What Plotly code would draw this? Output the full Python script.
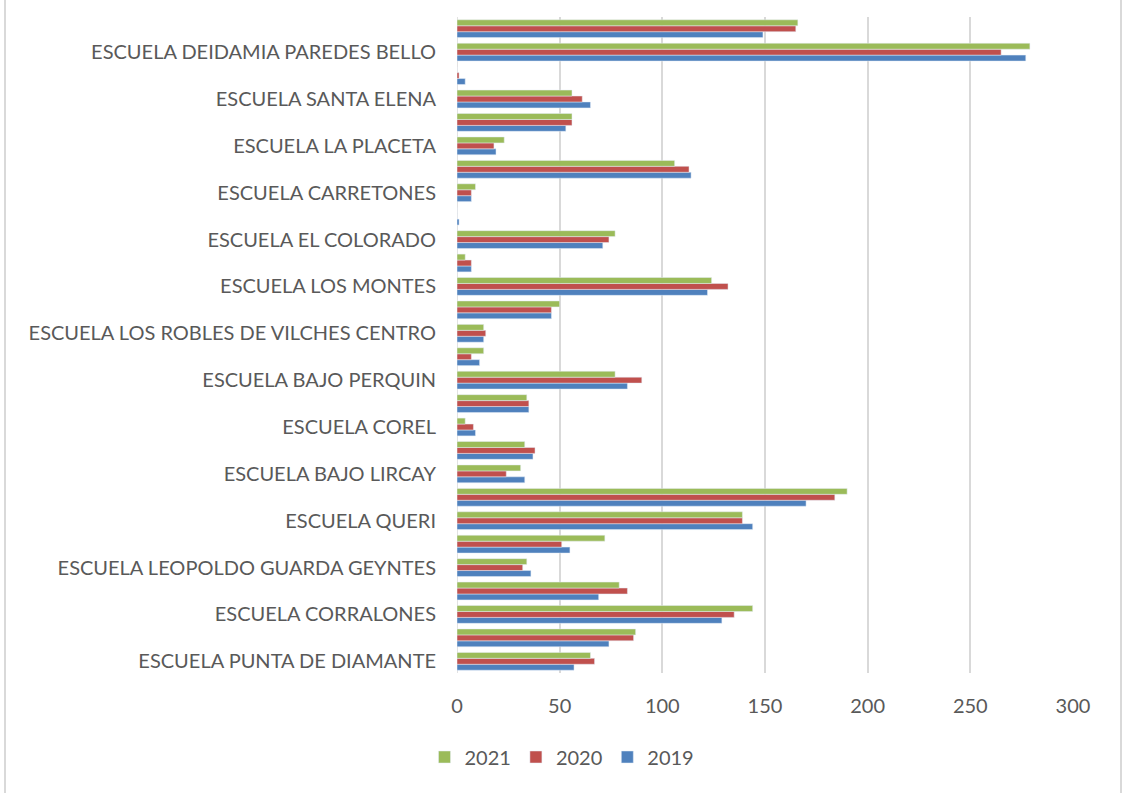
import plotly.graph_objects as go

# Values listed bottom (index 0) to top (index 27)
v2021 = [65, 87, 144, 79, 34, 72, 139, 190, 31, 33, 4, 34, 77, 13, 13, 50, 124, 4, 77, 0, 9, 106, 23, 56, 56, 0, 279, 166]
v2020 = [67, 86, 135, 83, 32, 51, 139, 184, 24, 38, 8, 35, 90, 7, 14, 46, 132, 7, 74, 0, 7, 113, 18, 56, 61, 1, 265, 165]
v2019 = [57, 74, 129, 69, 36, 55, 144, 170, 33, 37, 9, 35, 83, 11, 13, 46, 122, 7, 71, 1, 7, 114, 19, 53, 65, 4, 277, 149]

tick_positions = [0, 2, 4, 6, 8, 10, 12, 14, 16, 18, 20, 22, 24, 26]
tick_labels = [
    "ESCUELA PUNTA DE DIAMANTE",
    "ESCUELA CORRALONES",
    "ESCUELA LEOPOLDO GUARDA GEYNTES",
    "ESCUELA QUERI",
    "ESCUELA BAJO LIRCAY",
    "ESCUELA COREL",
    "ESCUELA BAJO PERQUIN",
    "ESCUELA LOS ROBLES DE VILCHES CENTRO",
    "ESCUELA LOS MONTES",
    "ESCUELA EL COLORADO",
    "ESCUELA CARRETONES",
    "ESCUELA LA PLACETA",
    "ESCUELA SANTA ELENA",
    "ESCUELA DEIDAMIA PAREDES BELLO",
]
x_ticks = [0, 50, 100, 150, 200, 250, 300]

positions = list(range(len(v2019)))

fig = go.Figure()
fig.add_trace(go.Bar(y=positions, x=v2019, orientation="h", name="2019", marker_color="#4F81BD"))
fig.add_trace(go.Bar(y=positions, x=v2020, orientation="h", name="2020", marker_color="#C0504D"))
fig.add_trace(go.Bar(y=positions, x=v2021, orientation="h", name="2021", marker_color="#9BBB59"))

W, H = 1123, 793
L, R, T, B = 457, 50, 17, 120
pw, ph = W - L - R, H - T - B

fig.update_layout(
    width=W, height=H,
    margin=dict(l=L, r=R, t=T, b=B),
    barmode="group", bargap=0.24, bargroupgap=0,
    plot_bgcolor="white", paper_bgcolor="white",
    font=dict(family="Lato, 'Open Sans', sans-serif", color="#595959", size=20),
    legend=dict(orientation="h", traceorder="reversed", x=(562 - L) / pw, xanchor="center",
                y=(T + ph - 757) / ph, yanchor="middle", font=dict(size=20), itemwidth=30),
    xaxis=dict(range=[0, 300], tickvals=x_ticks, showgrid=True, gridcolor="#D9D9D9", gridwidth=1.5,
               zeroline=False, showline=False, ticks="", tickfont=dict(size=20), ticklabelstandoff=19),
    yaxis=dict(range=[-0.5, 27.5], tickvals=tick_positions, ticktext=tick_labels, showgrid=False,
               zeroline=False, showline=False, ticks="", tickfont=dict(size=20), ticklabelstandoff=20),
)
for xp in (5, 1121):
    fig.add_shape(type="line", xref="paper", yref="paper",
                  x0=(xp - L) / pw, x1=(xp - L) / pw, y0=(T + ph - H) / ph, y1=(T + ph) / ph,
                  line=dict(color="#D9D9D9", width=2), layer="below")
fig.add_shape(type="line", xref="x", yref="paper", x0=0, x1=0, y0=0, y1=1,
              line=dict(color="#D9D9D9", width=1.5), layer="below")

fig.write_html("out.html", config={"displayModeBar": False},
               post_script="document.body.style.margin='0';")
